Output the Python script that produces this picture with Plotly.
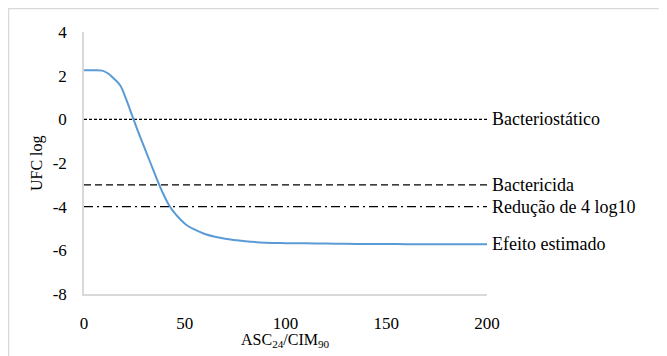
import plotly.graph_objects as go

# Estimated effect curve
auc_mic = [0, 5, 9, 12, 15, 18, 21, 24, 27, 30, 33, 36, 39, 42, 45, 48, 51, 55, 60,
           65, 70, 80, 90, 100, 110, 120, 130, 140, 150, 160, 170, 180, 190, 200]
log_cfu = [2.25, 2.25, 2.23, 2.1, 1.85, 1.55, 0.9, 0.15, -0.6, -1.3, -2.0, -2.7, -3.35,
           -3.9, -4.3, -4.6, -4.85, -5.05, -5.25, -5.38, -5.47, -5.58, -5.65, -5.67,
           -5.68, -5.69, -5.7, -5.71, -5.71, -5.72, -5.72, -5.72, -5.72, -5.72]

# Reference thresholds
threshold_names = ["Bacteriostático", "Bactericida", "Redução de 4 log10"]
threshold_values = [0, -3, -4]
x_span = [0, 200]

x_ticks = [0, 50, 100, 150, 200]
y_ticks = [4, 2, 0, -2, -4, -6, -8]
y_ticktext = ["4", "2", "0", "-2", "-4", "-6", "-8"]

FONT = "Liberation Serif"
dashes = ["3px,2px", "7px,4px", "9px,4px,2px,4px"]

# page body has an 8px margin: figure is sized/placed to compensate
W, H = 659, 348
L, R, T, B = 76, 180, 24, 62
PW, PH = W - L - R, H - T - B

fig = go.Figure()
for name, val, d in zip(threshold_names, threshold_values, dashes):
    fig.add_trace(go.Scatter(x=x_span, y=[val, val], mode="lines",
                             line=dict(color="black", width=1.3, dash=d),
                             name=name, showlegend=False, hoverinfo="skip"))
    fig.add_annotation(x=1.0, xref="paper", y=val, yref="y", text=name,
                       showarrow=False, xanchor="left", xshift=3,
                       font=dict(family=FONT, size=18, color="black"))

fig.add_trace(go.Scatter(x=auc_mic, y=log_cfu, mode="lines",
                         line=dict(color="#5b9bd5", width=2, shape="spline"),
                         name="Efeito estimado", showlegend=False))
fig.add_annotation(x=1.0, xref="paper", y=log_cfu[-1], yref="y", text="Efeito estimado",
                   showarrow=False, xanchor="left", xshift=3,
                   font=dict(family=FONT, size=18, color="black"))

# axis titles
fig.add_annotation(x=0.5, xref="paper", y=-46 / PH, yref="paper",
                   text="ASC<sub>24</sub>/CIM<sub>90</sub>", showarrow=False,
                   xanchor="center", yanchor="middle",
                   font=dict(family=FONT, size=16, color="black"))
fig.add_annotation(x=(29 - L) / PW, xref="paper", y=0.5, yref="paper",
                   text="UFC log", showarrow=False, textangle=-90,
                   xanchor="center", yanchor="middle",
                   font=dict(family=FONT, size=16, color="black"))

# outer border
fig.add_shape(type="rect", xref="paper", yref="paper",
              x0=(0.5 - L) / PW, x1=2, y0=-1, y1=(T + PH - 0.5) / PH,
              line=dict(color="#d9d9d9", width=1.5), layer="below")

fig.update_layout(
    width=W, height=H,
    margin=dict(l=L, r=R, t=T, b=B),
    paper_bgcolor="white", plot_bgcolor="white",
    font=dict(family=FONT, size=17, color="black"),
    xaxis=dict(range=[0, 200], tickvals=x_ticks, showgrid=False, zeroline=False,
               showline=True, linecolor="#d9d9d9", linewidth=1.5, automargin=False,
               ticks="outside", ticklen=13, tickcolor="rgba(0,0,0,0)",
               tickfont=dict(size=17)),
    yaxis=dict(range=[-8, 4], tickvals=y_ticks, ticktext=y_ticktext,
               showgrid=False, zeroline=False, automargin=False,
               showline=True, linecolor="#d9d9d9", linewidth=1.5,
               ticks="outside", ticklen=12, tickcolor="rgba(0,0,0,0)",
               tickfont=dict(size=17)),
)

fig.write_html("out.html")
